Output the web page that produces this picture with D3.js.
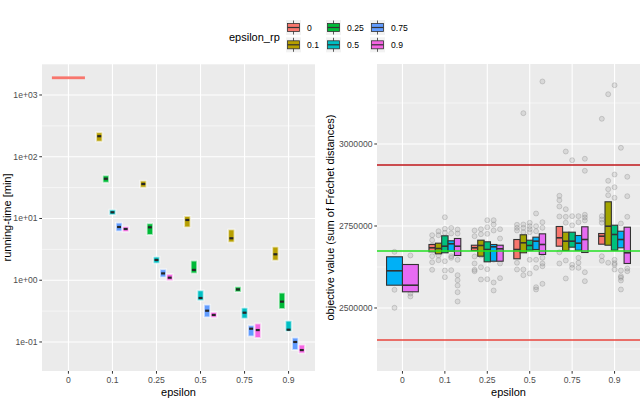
<!DOCTYPE html>
<html>
<head>
<meta charset="utf-8">
<script src="https://cdn.jsdelivr.net/npm/d3@7"></script>
<style>
  body { margin: 0; background: #fff; }
  text { font-family: "Liberation Sans", Arial, sans-serif; }
</style>
</head>
<body>
<div id="wrapper"></div>
<script>
// categories
const epsilonLevels = ["0", "0.1", "0.25", "0.5", "0.75", "0.9"]
const rpLevels = ["0", "0.1", "0.25", "0.5", "0.75", "0.9"]
const rpColors = ["#F8766D", "#B79F00", "#00BA38", "#00BFC4", "#619CFF", "#F564E3"]

// left panel: running time [min], [epsilon, epsilon_rp, q1, median, q3]
const runTimeTicks = [0.1, 1, 10, 100, 1000]
const runTimeTickLabels = ["1e-01", "1e+00", "1e+01", "1e+02", "1e+03"]
const runTimeBoxes = [
  ["0", "0", 1860, 1900, 1940],
  ["0.1", "0.1", 180, 215, 243],
  ["0.1", "0.25", 39, 44, 48.8],
  ["0.1", "0.5", 11.7, 12.6, 13.6],
  ["0.1", "0.75", 6.34, 7.28, 8.36],
  ["0.1", "0.9", 6.28, 6.76, 7.2],
  ["0.25", "0.1", 32.4, 36.2, 40],
  ["0.25", "0.25", 5.55, 7.2, 8.15],
  ["0.25", "0.5", 1.92, 2.13, 2.35],
  ["0.25", "0.75", 1.14, 1.29, 1.47],
  ["0.25", "0.9", 1.01, 1.1, 1.23],
  ["0.5", "0.1", 7.36, 9.46, 10.7],
  ["0.5", "0.25", 1.32, 1.47, 2.03],
  ["0.5", "0.5", 0.479, 0.516, 0.67],
  ["0.5", "0.75", 0.257, 0.321, 0.393],
  ["0.5", "0.9", 0.254, 0.274, 0.298],
  ["0.75", "0.1", 4.2, 4.78, 6.5],
  ["0.75", "0.25", 0.66, 0.71, 0.77],
  ["0.75", "0.5", 0.245, 0.298, 0.351],
  ["0.75", "0.75", 0.126, 0.164, 0.182],
  ["0.75", "0.9", 0.119, 0.156, 0.195],
  ["0.9", "0.1", 2.13, 2.63, 3.42],
  ["0.9", "0.25", 0.351, 0.45, 0.615],
  ["0.9", "0.5", 0.152, 0.158, 0.216],
  ["0.9", "0.75", 0.076, 0.1, 0.115],
  ["0.9", "0.9", 0.067, 0.074, 0.0885],
]

// right panel: objective value, fill groups 0..4
const objColors = ["#F8766D", "#A3A500", "#00BF7D", "#00B0F6", "#E76BF3"]
const objTicks = [2500000, 2750000, 3000000]
const objMinorTicks = [2375000, 2625000, 2875000, 3125000]
const objRedLines = [2936000, 2402400]
const objGreenLine = 2673800
// [epsilon, group, q1, median, q3]
const objBoxes = [
  ["0", 3, 2569500, 2613400, 2656100],
  ["0", 4, 2549400, 2569500, 2632600],
  ["0.1", 0, 2671300, 2683500, 2693600],
  ["0.1", 1, 2665200, 2681400, 2697600],
  ["0.1", 2, 2668300, 2688400, 2720100],
  ["0.1", 3, 2673200, 2695700, 2704900],
  ["0.1", 4, 2660100, 2688400, 2711900],
  ["0.25", 0, 2675300, 2683500, 2691400],
  ["0.25", 1, 2657900, 2690600, 2706700],
  ["0.25", 2, 2640800, 2678300, 2701800],
  ["0.25", 3, 2642700, 2686600, 2693600],
  ["0.25", 4, 2642700, 2680500, 2691400],
  ["0.5", 0, 2650000, 2678300, 2708800],
  ["0.5", 1, 2668300, 2698700, 2723200],
  ["0.5", 2, 2676200, 2690600, 2706700],
  ["0.5", 3, 2678300, 2703700, 2715900],
  ["0.5", 4, 2663100, 2693600, 2726100],
  ["0.75", 0, 2688400, 2714000, 2748500],
  ["0.75", 1, 2675300, 2703700, 2731100],
  ["0.75", 2, 2685400, 2703700, 2731100],
  ["0.75", 3, 2676200, 2697600, 2721000],
  ["0.75", 4, 2669200, 2708800, 2747600],
  ["0.9", 0, 2694500, 2718900, 2727100],
  ["0.9", 1, 2691400, 2749400, 2823800],
  ["0.9", 2, 2676200, 2724100, 2752400],
  ["0.9", 3, 2683500, 2708800, 2734100],
  ["0.9", 4, 2635700, 2668300, 2746300],
]
// [epsilon, group, values]
const objPoints = [
  ["0", 3, [2671300, 2555500, 2500600, 2613000]],
  ["0", 4, [2660100, 2544200, 2535100]],
  ["0.1", 0, [2722000, 2706700, 2657900, 2639600, 2616500, 2690000]],
  ["0.1", 1, [2734100, 2722000, 2660100, 2645700, 2680000]],
  ["0.1", 2, [2776800, 2741500, 2729200, 2642700, 2614300, 2594100]],
  ["0.1", 3, [2744000, 2727300, 2657900, 2653000, 2615300]],
  ["0.1", 4, [2739300, 2727100, 2647000, 2600000, 2584800, 2568600, 2548200, 2519800]],
  ["0.25", 0, [2736300, 2718900, 2657000, 2635700, 2616500, 2612200]],
  ["0.25", 1, [2740300, 2725000, 2660100, 2624400, 2586900]],
  ["0.25", 2, [2767700, 2746300, 2726100, 2618300, 2587800]],
  ["0.25", 3, [2767700, 2754500, 2736300, 2647000, 2577800, 2553400]],
  ["0.25", 4, [2740300, 2711900, 2635700, 2590900, 2660000]],
  ["0.5", 0, [2753700, 2744500, 2736300, 2637800, 2617400]],
  ["0.5", 1, [3093900, 2754600, 2744500, 2731100, 2617400, 2600000]],
  ["0.5", 2, [2759800, 2749400, 2740300, 2731100, 2647000, 2605200]],
  ["0.5", 3, [2788100, 2749400, 2734100, 2647000, 2622500, 2563400, 2556400]],
  ["0.5", 4, [3190600, 2761600, 2744500, 2653000, 2635700, 2627400, 2573700]],
  ["0.75", 0, [2842100, 2828700, 2809500, 2779000, 2669900, 2635700]],
  ["0.75", 1, [2977100, 2801200, 2778000, 2760000, 2644800, 2590000]],
  ["0.75", 2, [2950600, 2780000, 2752000, 2631700, 2622500]],
  ["0.75", 3, [2780000, 2761600, 2653000, 2638000, 2622500]],
  ["0.75", 4, [2954900, 2918300, 2784200, 2776000, 2767000, 2609100, 2581800]],
  ["0.9", 0, [3076800, 2780000, 2769800, 2759800, 2657900, 2643900]],
  ["0.9", 1, [3151800, 2887800, 2862200, 2843900, 2760000, 2638000]],
  ["0.9", 2, [3179300, 2907000, 2868300, 2836000, 2647000, 2636600, 2631700, 2617400]],
  ["0.9", 3, [2988400, 2757600, 2614300, 2597000, 2592100, 2583800, 2556400]],
  ["0.9", 4, [2900000, 2840900, 2778000, 2620400, 2612200]],
]

function drawChart() {
  const width = 640
  const height = 399
  const svg = d3.select("#wrapper")
    .append("svg")
      .attr("width", width)
      .attr("height", height)

  const panelTop = 64
  const panelBottom = 371
  const left = { x0: 42, x1: 315 }
  const right = { x0: 377, x1: 640 }
  const tickColor = "#333333"
  const labelColor = "#4d4d4d"

  // ---------- left panel: running time ----------
  const xL = d3.scalePoint().domain(epsilonLevels).range([left.x0, left.x1]).padding(0.6)
  const yL = d3.scaleLog().domain([Math.pow(10, -1.47), Math.pow(10, 3.502)]).range([panelBottom, panelTop])

  const gL = svg.append("g")
  gL.append("rect")
    .attr("x", left.x0).attr("y", panelTop)
    .attr("width", left.x1 - left.x0).attr("height", panelBottom - panelTop)
    .attr("fill", "#ebebeb")

  const minorL = [-0.5, 0.5, 1.5, 2.5, 3.5].map(e => Math.pow(10, e))
  gL.selectAll(".minor").data(minorL).join("line")
    .attr("x1", left.x0).attr("x2", left.x1)
    .attr("y1", d => yL(d)).attr("y2", d => yL(d))
    .attr("stroke", "#fff").attr("stroke-width", 0.55)
  gL.selectAll(".majorY").data(runTimeTicks).join("line")
    .attr("x1", left.x0).attr("x2", left.x1)
    .attr("y1", d => yL(d)).attr("y2", d => yL(d))
    .attr("stroke", "#fff").attr("stroke-width", 1.1)
  gL.selectAll(".majorX").data(epsilonLevels).join("line")
    .attr("x1", d => xL(d)).attr("x2", d => xL(d))
    .attr("y1", panelTop).attr("y2", panelBottom)
    .attr("stroke", "#fff").attr("stroke-width", 1.1)

  const stepL = xL.step()
  const countL = d3.rollup(runTimeBoxes, v => v.map(d => d[1]), d => d[0])
  runTimeBoxes.forEach(d => {
    const grps = countL.get(d[0])
    const n = grps.length
    const slot = 0.75 * stepL / n
    const i = grps.indexOf(d[1])
    const x = xL(d[0]) - 0.375 * stepL + i * slot
    const color = rpColors[rpLevels.indexOf(d[1])]
    const flat = d[4] / d[2] < 1.1
    let yTop = yL(d[4])
    let yBot = yL(d[2])
    if (!flat && yBot - yTop < 4) {
      const mid = (yTop + yBot) / 2
      yTop = mid - 2
      yBot = mid + 2
    }
    if (flat) {
      gL.append("rect")
        .attr("x", x).attr("y", yL(d[3]) - 1.4)
        .attr("width", slot).attr("height", 2.8)
        .attr("fill", color)
      return
    }
    gL.append("rect")
      .attr("x", x + 0.2).attr("y", yTop - 0.6)
      .attr("width", slot - 0.4).attr("height", yBot - yTop + 1.2)
      .attr("fill", color)
      .attr("stroke", "rgba(255,255,255,0.6)")
      .attr("stroke-width", 1.8)
    gL.append("line")
      .attr("x1", x + slot * 0.2).attr("x2", x + slot * 0.8)
      .attr("y1", yL(d[3])).attr("y2", yL(d[3]))
      .attr("stroke", "#262626").attr("stroke-width", 2.2)
  })

  // left axes
  gL.selectAll(".ytick").data(runTimeTicks).join("line")
    .attr("x1", left.x0 - 2.7).attr("x2", left.x0)
    .attr("y1", d => yL(d)).attr("y2", d => yL(d))
    .attr("stroke", tickColor).attr("stroke-width", 1)
  gL.selectAll(".ylab").data(runTimeTicks).join("text")
    .attr("x", left.x0 - 4.5).attr("y", d => yL(d))
    .attr("dy", "0.35em")
    .attr("text-anchor", "end")
    .attr("fill", labelColor)
    .style("font-size", "8.6px")
    .text((d, i) => runTimeTickLabels[i])
  gL.selectAll(".xtick").data(epsilonLevels).join("line")
    .attr("x1", d => xL(d)).attr("x2", d => xL(d))
    .attr("y1", panelBottom).attr("y2", panelBottom + 2.7)
    .attr("stroke", tickColor).attr("stroke-width", 1)
  gL.selectAll(".xlab").data(epsilonLevels).join("text")
    .attr("x", d => xL(d)).attr("y", panelBottom + 11.5)
    .attr("text-anchor", "middle")
    .attr("fill", labelColor)
    .style("font-size", "8.6px")
    .text(d => d)
  gL.append("text")
    .attr("x", (left.x0 + left.x1) / 2).attr("y", 396)
    .attr("text-anchor", "middle")
    .style("font-size", "11px")
    .text("epsilon")
  gL.append("text")
    .attr("transform", `translate(10.5, ${(panelTop + panelBottom) / 2}) rotate(-90)`)
    .attr("text-anchor", "middle")
    .style("font-size", "11px")
    .text("running-time [min]")

  // ---------- right panel: objective value ----------
  const xR = d3.scalePoint().domain(epsilonLevels).range([right.x0, right.x1]).padding(0.6)
  const yR = d3.scaleLinear().domain([2307900, 3243900]).range([panelBottom, panelTop])

  const gR = svg.append("g")
  gR.append("rect")
    .attr("x", right.x0).attr("y", panelTop)
    .attr("width", right.x1 - right.x0).attr("height", panelBottom - panelTop)
    .attr("fill", "#ebebeb")
  gR.selectAll(".minor").data(objMinorTicks).join("line")
    .attr("x1", right.x0).attr("x2", right.x1)
    .attr("y1", d => yR(d)).attr("y2", d => yR(d))
    .attr("stroke", "#fff").attr("stroke-width", 0.55)
  gR.selectAll(".majorY").data(objTicks).join("line")
    .attr("x1", right.x0).attr("x2", right.x1)
    .attr("y1", d => yR(d)).attr("y2", d => yR(d))
    .attr("stroke", "#fff").attr("stroke-width", 1.1)
  gR.selectAll(".majorX").data(epsilonLevels).join("line")
    .attr("x1", d => xR(d)).attr("x2", d => xR(d))
    .attr("y1", panelTop).attr("y2", panelBottom)
    .attr("stroke", "#fff").attr("stroke-width", 1.1)

  const stepR = xR.step()
  const countR = d3.rollup(objBoxes, v => v.map(d => d[1]), d => d[0])
  function slotPos(eps, grp) {
    const grps = countR.get(eps)
    const slot = 0.75 * stepR / grps.length
    const i = grps.indexOf(grp)
    return { x: xR(eps) - 0.375 * stepR + i * slot, w: slot }
  }

  // points
  objPoints.forEach(d => {
    const p = slotPos(d[0], d[1])
    gR.selectAll(null).data(d[2]).join("circle")
      .attr("cx", p.x + p.w / 2)
      .attr("cy", v => yR(v))
      .attr("r", 2.5)
      .attr("fill", "rgba(140,140,140,0.2)")
      .attr("stroke", "rgba(110,110,110,0.32)")
      .attr("stroke-width", 0.8)
  })

  // boxes
  objBoxes.forEach(d => {
    const p = slotPos(d[0], d[1])
    gR.append("rect")
      .attr("x", p.x).attr("y", yR(d[4]))
      .attr("width", p.w).attr("height", yR(d[2]) - yR(d[4]))
      .attr("fill", objColors[d[1]])
      .attr("stroke", "#333333").attr("stroke-width", 1.1)
    gR.append("line")
      .attr("x1", p.x).attr("x2", p.x + p.w)
      .attr("y1", yR(d[3])).attr("y2", yR(d[3]))
      .attr("stroke", "#333333").attr("stroke-width", 1.6)
  })

  // reference lines
  gR.selectAll(".redline").data(objRedLines).join("line")
    .attr("x1", right.x0).attr("x2", right.x1)
    .attr("y1", d => yR(d)).attr("y2", d => yR(d))
    .attr("stroke", (d, i) => i == 0 ? "#c0171b" : "#e8453c")
    .attr("stroke-width", 1.3)
  gR.append("line")
    .attr("x1", right.x0).attr("x2", right.x1)
    .attr("y1", yR(objGreenLine)).attr("y2", yR(objGreenLine))
    .attr("stroke", "#22e022").attr("stroke-width", 1.3)

  // right axes
  gR.selectAll(".ytick").data(objTicks).join("line")
    .attr("x1", right.x0 - 2.7).attr("x2", right.x0)
    .attr("y1", d => yR(d)).attr("y2", d => yR(d))
    .attr("stroke", tickColor).attr("stroke-width", 1)
  gR.selectAll(".ylab").data(objTicks).join("text")
    .attr("x", right.x0 - 4.5).attr("y", d => yR(d))
    .attr("dy", "0.35em")
    .attr("text-anchor", "end")
    .attr("fill", labelColor)
    .style("font-size", "8.6px")
    .text(d => d)
  gR.selectAll(".xtick").data(epsilonLevels).join("line")
    .attr("x1", d => xR(d)).attr("x2", d => xR(d))
    .attr("y1", panelBottom).attr("y2", panelBottom + 2.7)
    .attr("stroke", tickColor).attr("stroke-width", 1)
  gR.selectAll(".xlab").data(epsilonLevels).join("text")
    .attr("x", d => xR(d)).attr("y", panelBottom + 11.5)
    .attr("text-anchor", "middle")
    .attr("fill", labelColor)
    .style("font-size", "8.6px")
    .text(d => d)
  gR.append("text")
    .attr("x", (right.x0 + right.x1) / 2).attr("y", 396)
    .attr("text-anchor", "middle")
    .style("font-size", "11px")
    .text("epsilon")
  gR.append("text")
    .attr("transform", `translate(334, ${(panelTop + panelBottom) / 2}) rotate(-90)`)
    .attr("text-anchor", "middle")
    .style("font-size", "11px")
    .text("objective value (sum of Fréchet distances)")

  // ---------- legend ----------
  const legend = svg.append("g")
  legend.append("text")
    .attr("x", 229).attr("y", 37).attr("dy", "0.35em")
    .style("font-size", "11px")
    .text("epsilon_rp")
  rpLevels.forEach((lv, i) => {
    const col = Math.floor(i / 2)
    const row = i % 2
    const kx = [286, 326, 370][col]
    const ky = 20 + row * 17.3
    const key = legend.append("g").attr("transform", `translate(${kx}, ${ky})`)
    key.append("rect").attr("width", 15).attr("height", 15).attr("fill", "#f2f2f2")
    key.append("line").attr("x1", 7.5).attr("x2", 7.5).attr("y1", 0.5).attr("y2", 14.5)
      .attr("stroke", "#333").attr("stroke-width", 0.8)
    key.append("rect").attr("x", 1.5).attr("y", 3.5).attr("width", 12).attr("height", 8)
      .attr("fill", rpColors[i]).attr("stroke", "#333").attr("stroke-width", 0.8)
    key.append("line").attr("x1", 1.5).attr("x2", 13.5).attr("y1", 7.5).attr("y2", 7.5)
      .attr("stroke", "#333").attr("stroke-width", 1.2)
    legend.append("text")
      .attr("x", kx + 21).attr("y", ky + 7.5).attr("dy", "0.35em")
      .attr("fill", "#000")
      .style("font-size", "8.6px")
      .text(lv)
  })
}

drawChart()
</script>
</body>
</html>
